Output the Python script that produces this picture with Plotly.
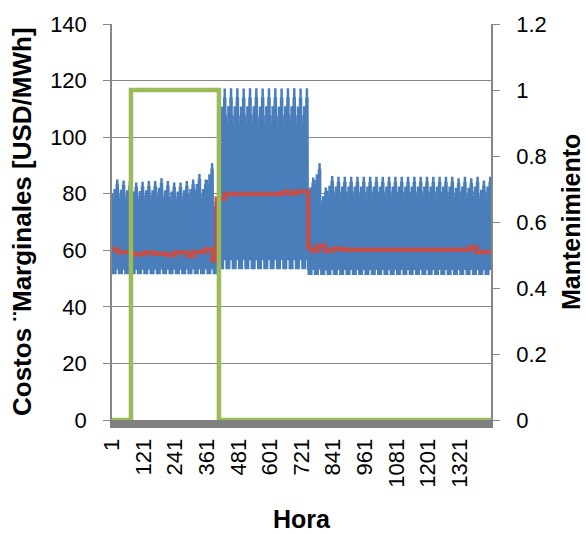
import plotly.graph_objects as go

# ---------------- data ----------------
N_HOURS = 1440
x_tick_hours = [1, 121, 241, 361, 481, 601, 721, 841, 961, 1081, 1201, 1321]
x_tick_labels = [str(v) for v in x_tick_hours]

# daily maximum / minimum of the hourly marginal cost (60 days)
day_peak = [85.0, 84.7, 84.5, 84.0, 84.2, 84.5, 84.5, 85.5, 84.5, 84.0,
            84.0, 84.5, 85.0, 87.0, 85.0, 90.8, 80.0,
            117.2, 117.3, 117.3, 117.2, 117.3, 117.3, 117.2, 117.3, 117.3,
            117.2, 117.3, 117.3, 117.2, 117.3,
            85.7, 90.8, 82.2, 86.3, 86.0, 86.0, 86.0, 86.0, 86.0, 86.0,
            86.0, 86.0, 86.0, 86.0, 86.0, 86.0, 86.0, 86.0, 86.0, 86.0,
            86.0, 86.0, 86.0, 85.5, 86.0, 85.5, 86.0, 84.7, 86.0]
day_valley = [51.5] * 17 + [53.3] * 14 + [51.3] * 29

# hourly pattern inside a day (0 = daily minimum, 1 = daily maximum)
hour_shape = [0.85, 0.05, 0.60, 0.00, 0.45, 0.02, 0.70, 0.00, 0.80, 0.10,
              0.90, 0.05, 0.85, 0.00, 0.80, 0.05, 0.90, 0.10, 0.95, 0.05,
              1.00, 0.10, 0.95, 0.30]

# red series: average cost, as steps (start hour, value)
avg_step_hour = [1, 24, 81, 125, 163, 208, 239, 290, 310, 354, 383, 399,
                 430, 652, 677, 702, 746, 759, 784, 809, 840, 878, 1359,
                 1384, 1440]
avg_step_value = [60.4, 59.3, 58.6, 59.2, 58.8, 58.3, 59.2, 58.0, 59.4, 60.4,
                  56.5, 78.2, 79.9, 80.7, 80.1, 80.8, 61.0, 59.8, 61.6, 59.8,
                  60.5, 60.2, 61.1, 59.4, 59.4]

# green series: maintenance flag (start hour, value)
maint_step_hour = [1, 73, 407, 1440]
maint_step_value = [0, 1, 0, 0]

# ---------------- build hourly series ----------------
hours = list(range(1, N_HOURS + 1))
cost = []
for d in range(len(day_peak)):
    for h in range(24):
        cost.append(day_valley[d] + hour_shape[h] * (day_peak[d] - day_valley[d]))

FONT = "Liberation Sans, Arial, sans-serif"
GRID = "#868686"

fig = go.Figure()
fig.add_trace(go.Scatter(x=hours, y=cost, mode="lines",
                         line=dict(color="#4A7EBB", width=2.5, simplify=False),
                         name="Costo marginal", showlegend=False))
fig.add_trace(go.Scatter(x=avg_step_hour, y=avg_step_value, mode="lines",
                         line=dict(color="#C0504D", width=4.5, shape="hv"),
                         name="Promedio", showlegend=False))
fig.add_trace(go.Scatter(x=maint_step_hour, y=maint_step_value, mode="lines",
                         line=dict(color="#9BBB59", width=4.5, shape="hv"),
                         name="Mantenimiento", yaxis="y2", showlegend=False))

fig.update_layout(
    width=586, height=535,
    margin=dict(l=112, r=95, t=20, b=115),
    paper_bgcolor="white", plot_bgcolor="white",
    font=dict(family=FONT, size=22, color="black"),
    xaxis=dict(range=[1, N_HOURS], tickmode="array", tickvals=x_tick_hours,
               ticktext=x_tick_labels, tickangle=-90, showgrid=False,
               zeroline=False, showline=True, linecolor="#808080",
               linewidth=8, ticks="", ticklabelstandoff=2,
               tickfont=dict(size=22)),
    yaxis=dict(range=[0, 140], dtick=20, tick0=0, showgrid=True,
               gridcolor=GRID, gridwidth=1, zeroline=False, showline=True,
               linecolor=GRID, linewidth=1.5, ticks="outside", ticklen=7,
               tickcolor=GRID, ticklabelstandoff=12, tickfont=dict(size=22)),
    yaxis2=dict(range=[0, 1.2], dtick=0.2, tick0=0, overlaying="y",
                side="right", showgrid=False, zeroline=False, showline=True,
                linecolor=GRID, linewidth=1.5, ticks="outside", ticklen=7,
                tickcolor=GRID, ticklabelstandoff=12, tickfont=dict(size=22)),
    annotations=[
        dict(text="<b>Costos ¨Marginales [USD/MWh]</b>", xref="paper",
             yref="paper", x=(22 - 112) / 379, y=0.5, textangle=-90,
             showarrow=False, xanchor="center", yanchor="middle",
             font=dict(size=26, family=FONT)),
        dict(text="<b>Mantenimiento</b>", xref="paper", yref="paper",
             x=(571 - 112) / 379, y=0.5, textangle=-90, showarrow=False,
             xanchor="center", yanchor="middle",
             font=dict(size=25, family=FONT)),
        dict(text="<b>Hora</b>", xref="paper", yref="paper", x=0.5,
             y=(420 - 520) / 400, showarrow=False, xanchor="center",
             yanchor="middle", font=dict(size=25, family=FONT)),
    ],
)

fig.write_html("out.html")
